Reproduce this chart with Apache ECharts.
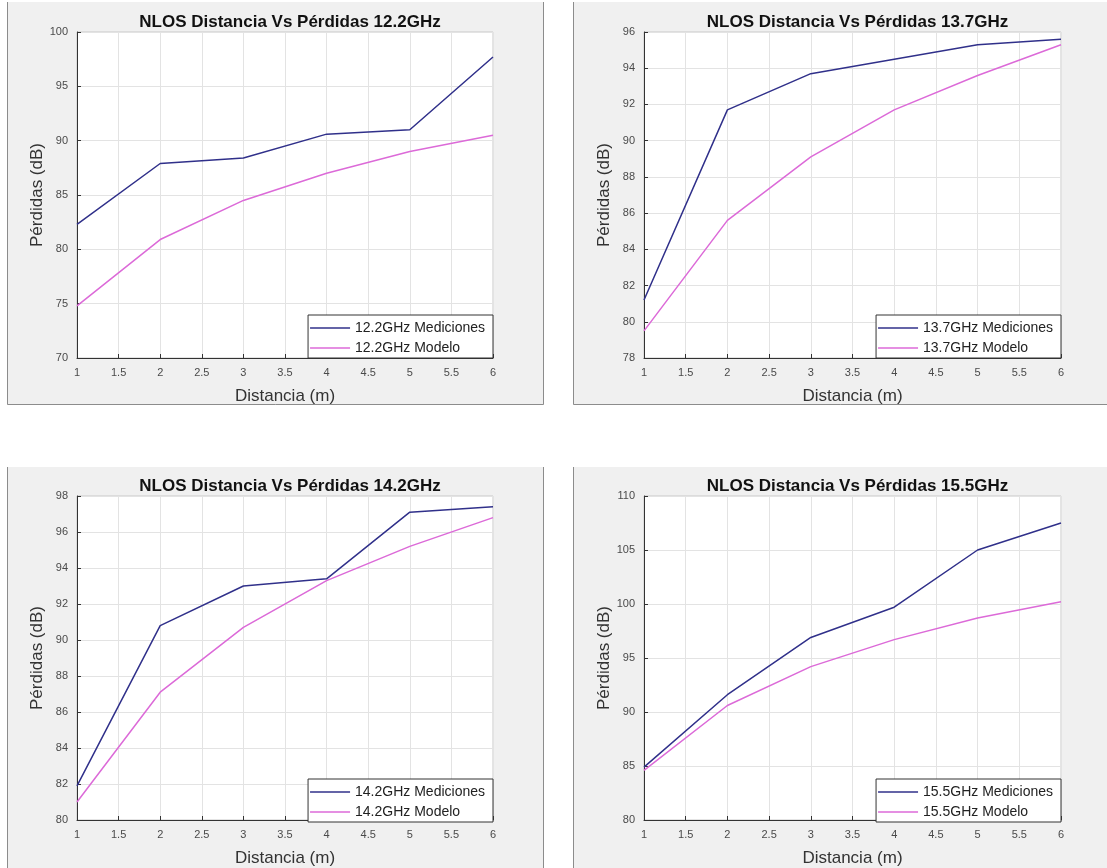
<!DOCTYPE html>
<html>
<head>
<meta charset="utf-8">
<script src="https://cdn.jsdelivr.net/npm/echarts@6/dist/echarts.min.js"></script>
<style>
html,body{margin:0;padding:0;background:#fff;}
#chart{width:1107px;height:868px;}
</style>
</head>
<body>
<div id="chart"></div>
<script>
// ---- data ----
const distances = [1, 2, 3, 4, 5, 6];
const freqs = ['12.2GHz', '13.7GHz', '14.2GHz', '15.5GHz'];
const med122 = [82.3, 87.9, 88.4, 90.6, 91.0, 97.7];
const mod122 = [74.8, 80.9, 84.5, 87.0, 89.0, 90.5];
const med137 = [81.2, 91.7, 93.7, 94.5, 95.3, 95.6];
const mod137 = [79.5, 85.6, 89.1, 91.7, 93.6, 95.3];
const med142 = [81.9, 90.8, 93.0, 93.4, 97.1, 97.4];
const mod142 = [81.0, 87.1, 90.7, 93.3, 95.2, 96.8];
const med155 = [84.9, 91.6, 96.9, 99.7, 105.0, 107.5];
const mod155 = [84.6, 90.6, 94.2, 96.7, 98.7, 100.2];
const yMins = [70, 78, 80, 80];
const yMaxs = [100, 96, 98, 110];
const yIntervals = [5, 2, 2, 5];
const xMin = 1, xMax = 6, xInterval = 0.5;
const titleText = 'NLOS Distancia Vs Pérdidas ';
const xName = 'Distancia (m)';
const yName = 'Pérdidas (dB)';

const medSeries = [med122, med137, med142, med155];
const modSeries = [mod122, mod137, mod142, mod155];

// ---- layout ----
const W = 1107, H = 868;
const plots = [
  {l: 77, r: 493, t: 32, b: 358},
  {l: 644, r: 1061, t: 32, b: 358},
  {l: 77, r: 493, t: 496, b: 822},
  {l: 644, r: 1061, t: 496, b: 822}
];
const panels = [
  {x: 7, y: 2, w: 537, h: 403},
  {x: 573, y: 2, w: 540, h: 403},
  {x: 7, y: 467, w: 537, h: 410},
  {x: 573, y: 467, w: 540, h: 410}
];
const FONT = '"Liberation Sans", Arial, Helvetica, sans-serif';
const MED_COLOR = '#30308a';
const MOD_COLOR = '#dc6ad8';

const graphics = [];
panels.forEach(p => {
  graphics.push({type: 'rect', z: -10, silent: true,
    shape: {x: p.x, y: p.y, width: p.w, height: p.h},
    style: {fill: '#f0f0f0'}});
  graphics.push({type: 'polyline', z: -9, silent: true,
    shape: {points: [[p.x + 0.5, p.y], [p.x + 0.5, p.y + p.h - 0.5], [p.x + p.w - 0.5, p.y + p.h - 0.5], [p.x + p.w - 0.5, p.y]]},
    style: {stroke: '#8c8c8c', lineWidth: 1, fill: null}});
});

const grid = [], xAxis = [], yAxis = [], series = [], title = [], legend = [];
plots.forEach((p, i) => {
  grid.push({left: p.l, top: p.t, width: p.r - p.l, height: p.b - p.t,
    show: true, backgroundColor: '#ffffff', borderColor: '#c8c8c8', borderWidth: 1});
  xAxis.push({type: 'value', gridIndex: i, min: xMin, max: xMax, interval: xInterval,
    name: xName, nameLocation: 'middle', nameGap: 30,
    nameTextStyle: {fontFamily: FONT, fontSize: 17, color: '#333'},
    axisLine: {show: true, lineStyle: {color: '#333', width: 1}},
    axisTick: {show: true, inside: true, length: 4, lineStyle: {color: '#333'}},
    axisLabel: {fontFamily: FONT, fontSize: 11, color: '#4a4a4a', margin: 9},
    splitLine: {show: true, lineStyle: {color: '#e3e3e3', width: 1}}});
  yAxis.push({type: 'value', gridIndex: i, min: yMins[i], max: yMaxs[i], interval: yIntervals[i],
    name: yName, nameLocation: 'middle', nameGap: 31,
    nameTextStyle: {fontFamily: FONT, fontSize: 17, color: '#333'},
    axisLine: {show: true, lineStyle: {color: '#333', width: 1}},
    axisTick: {show: true, inside: true, length: 4, lineStyle: {color: '#333'}},
    axisLabel: {fontFamily: FONT, fontSize: 11, color: '#4a4a4a', margin: 9},
    splitLine: {show: true, lineStyle: {color: '#e3e3e3', width: 1}}});
  const medName = freqs[i] + ' Mediciones';
  const modName = freqs[i] + ' Modelo';
  series.push({type: 'line', name: medName, xAxisIndex: i, yAxisIndex: i,
    data: distances.map((d, k) => [d, medSeries[i][k]]),
    symbol: 'none', lineStyle: {color: MED_COLOR, width: 1.5}, itemStyle: {color: MED_COLOR}, z: 3});
  series.push({type: 'line', name: modName, xAxisIndex: i, yAxisIndex: i,
    data: distances.map((d, k) => [d, modSeries[i][k]]),
    symbol: 'none', lineStyle: {color: MOD_COLOR, width: 1.5}, itemStyle: {color: MOD_COLOR}, z: 2});
  title.push({text: titleText + freqs[i], left: (p.l + p.r) / 2, top: p.t - 23, textAlign: 'center',
    textStyle: {fontFamily: FONT, fontSize: 17, fontWeight: 'bold', color: '#111'}});
  legend.push({data: [medName, modName], orient: 'vertical',
    right: W - p.r, top: p.b - 43,
    backgroundColor: '#ffffff', borderColor: '#333', borderWidth: 1,
    padding: [6, 8, 3, 2], itemGap: 6, itemWidth: 40, itemHeight: 1.5, icon: 'rect',
    textStyle: {fontFamily: FONT, fontSize: 14, color: '#222'}, selectedMode: false});
});

const chart = echarts.init(document.getElementById('chart'), null, {renderer: 'canvas'});
chart.setOption({
  animation: false,
  backgroundColor: '#ffffff',
  graphic: graphics,
  title, grid, xAxis, yAxis, legend, series
});
</script>
</body>
</html>
